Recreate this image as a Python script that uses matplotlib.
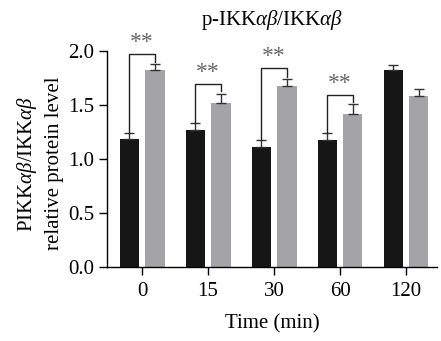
import numpy as np
import matplotlib.pyplot as plt

plt.rcParams['font.family'] = 'Liberation Serif'
plt.rcParams['mathtext.fontset'] = 'custom'
plt.rcParams['mathtext.rm'] = 'Liberation Serif'
plt.rcParams['mathtext.it'] = 'Liberation Serif:italic'

# data
times = ['0', '15', '30', '60', '120']
black_vals = np.array([1.19, 1.27, 1.117, 1.18, 1.83])
black_err = np.array([0.05, 0.065, 0.06, 0.06, 0.04])
gray_vals = np.array([1.83, 1.52, 1.68, 1.42, 1.59])
gray_err = np.array([0.05, 0.09, 0.065, 0.09, 0.065])
# significance brackets: group index, bracket height
sig_groups = [0, 1, 2, 3]
sig_heights = [1.98, 1.70, 1.85, 1.60]

x = np.arange(len(times))
w = 0.29
off = 0.195

fig = plt.figure(figsize=(4.41, 3.41), dpi=100)
ax = fig.add_axes([0.243, 0.217, 0.748, 0.632])

ax.bar(x - off, black_vals, w, color='#161616',
       yerr=[np.zeros_like(black_err), black_err],
       error_kw=dict(ecolor='#333333', elinewidth=1, capsize=3.5, capthick=1))
ax.bar(x + off, gray_vals, w, color='#a4a3a6',
       yerr=[np.zeros_like(gray_err), gray_err],
       error_kw=dict(ecolor='#333333', elinewidth=1, capsize=3.5, capthick=1))

for g, h in zip(sig_groups, sig_heights):
    y1 = black_vals[g] + black_err[g]
    y2 = gray_vals[g] + gray_err[g]
    ax.plot([g - off, g - off, g + off, g + off], [y1, h, h, y2 + 0.02],
            color='#222222', lw=1, clip_on=False)
    ax.text(g, h + 0.005, '**', ha='center', va='bottom', fontsize=17,
            color='#666666', clip_on=False)

ax.set_xlim(-0.53, 4.47)
ax.set_ylim(0, 2.0)
ax.set_yticks([0.0, 0.5, 1.0, 1.5, 2.0])
ax.set_yticklabels(['0.0', '0.5', '1.0', '1.5', '2.0'])
ax.set_xticks(x)
ax.set_xticklabels(times)
ax.tick_params(labelsize=15, length=6, width=1, direction='out')
ax.tick_params(axis='x', pad=5)
for s in ['top', 'right']:
    ax.spines[s].set_visible(False)
for s in ['left', 'bottom']:
    ax.spines[s].set_linewidth(1)

ax.set_xlabel('Time (min)', fontsize=15, labelpad=9)
ax.set_ylabel(r'PIKK$\alpha\beta$/IKK$\alpha\beta$' + '\nrelative protein level',
              fontsize=15, linespacing=1.4)
ax.yaxis.set_label_coords(-0.132, 0.48)
ax.set_title(r'p-IKK$\alpha\beta$/IKK$\alpha\beta$', fontsize=15, pad=19)

fig.savefig('out.png', dpi=100)
